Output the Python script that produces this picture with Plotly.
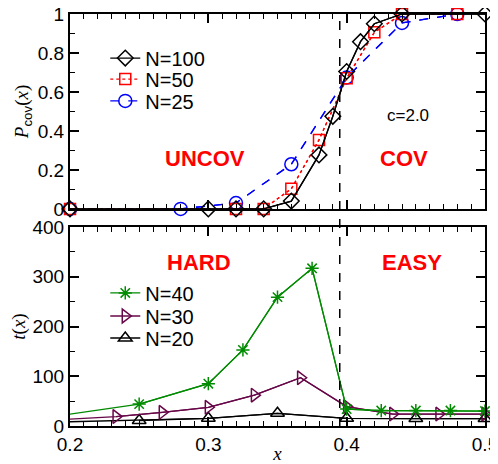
import plotly.graph_objects as go

# top panel: coverage probability
x_n100 = [0.2, 0.3, 0.32, 0.34, 0.36, 0.38, 0.39, 0.40, 0.41, 0.42, 0.44, 0.5]
p_n100 = [0.0, 0.0, 0.0, 0.0, 0.04, 0.277, 0.475, 0.705, 0.858, 0.95, 1.0, 1.0]
x_n50 = [0.2, 0.32, 0.34, 0.36, 0.38, 0.40, 0.42, 0.44, 0.48]
p_n50 = [0.0, 0.0, 0.0, 0.103, 0.354, 0.67, 0.906, 1.0, 1.0]
x_n25 = [0.2, 0.28, 0.32, 0.36, 0.40, 0.44, 0.48]
p_n25 = [0.0, 0.0, 0.03, 0.229, 0.674, 0.954, 1.0]

# bottom panel: solving time (first point of each lies left of the axis)
x_n40 = [0.15, 0.25, 0.3, 0.325, 0.35, 0.375, 0.4, 0.425, 0.45, 0.475, 0.5]
t_n40 = [4, 44, 85, 153, 259, 317, 34, 31, 31, 31, 30]
x_n30 = [0.1667, 0.2333, 0.2667, 0.3, 0.3333, 0.3667, 0.4, 0.4333, 0.4667, 0.5]
t_n30 = [9, 19, 27.5, 37.6, 62, 97, 39, 24, 24, 24]
x_n20 = [0.15, 0.25, 0.3, 0.35, 0.4, 0.45, 0.5]
t_n20 = [5, 11, 15.5, 25.5, 15.5, 15, 15]

X_MIN, X_MAX = 0.2, 0.5
X_C = 0.395

GREEN = "rgb(0,139,0)"
MAROON = "rgb(103,7,72)"
SANS = "Liberation Sans, Arial, sans-serif"
SERIF = "Liberation Serif, Times New Roman, serif"

fig = go.Figure()

def add(x, y, name, color, symbol, size, dash, xa, ya, legend):
    # line part keeps the off-axis points, markers only the visible ones
    fig.add_trace(go.Scatter(x=x, y=y, mode="lines", showlegend=False,
                             line=dict(color=color, width=1.3, dash=dash),
                             xaxis=xa, yaxis=ya, hoverinfo="skip"))
    xs = [a for a in x if a >= X_MIN - 1e-9]
    ys = [b for a, b in zip(x, y) if a >= X_MIN - 1e-9]
    fig.add_trace(go.Scatter(x=xs, y=ys, mode="lines+markers", name=name,
                             line=dict(color=color, width=1.3, dash=dash),
                             marker=dict(symbol=symbol, size=size, color=color,
                                         line=dict(color=color, width=1.5)),
                             cliponaxis=False, xaxis=xa, yaxis=ya, legend=legend))

# top traces (one legend each so the rows can sit close together)
add(x_n25, p_n25, "N=25", "blue", "circle-open", 13, "dash", "x", "y", "legend3")
add(x_n50, p_n50, "N=50", "red", "square-open", 11, "dot", "x", "y", "legend2")
add(x_n100, p_n100, "N=100", "black", "diamond-open", 12, "solid", "x", "y", "legend")
# bottom traces
add(x_n20, t_n20, "N=20", "black", "triangle-up-open", 12, "solid", "x2", "y2", "legend6")
add(x_n30, t_n30, "N=30", MAROON, "triangle-right-open", 12, "solid", "x2", "y2", "legend5")
add(x_n40, t_n40, "N=40", GREEN, "asterisk-open", 11, "solid", "x2", "y2", "legend4")

axis_common = dict(showline=True, linecolor="black", linewidth=2, mirror="allticks",
                   ticks="inside", ticklen=9, tickwidth=1.5, tickcolor="black",
                   showgrid=False, zeroline=False, automargin=False,
                   ticklabeloverflow="allow",
                   tickfont=dict(family=SANS, size=19, color="black"))
minor_x = dict(ticks="inside", dtick=0.01, ticklen=5, tickwidth=1, tickcolor="black", showgrid=False)

def leg(y):
    return dict(x=0.085, y=y, xanchor="left", yanchor="middle", bgcolor="rgba(0,0,0,0)",
                font=dict(family=SANS, size=20, color="black"), itemwidth=30)

# page body has an 8px margin, so the figure is 8px smaller than the window
fig.update_layout(
    width=490, height=456,
    margin=dict(l=62, r=13, t=6, b=38),
    plot_bgcolor="white", paper_bgcolor="white",
    xaxis=dict(axis_common, range=[X_MIN, X_MAX], dtick=0.1, anchor="y",
               showticklabels=False, minor=minor_x),
    yaxis=dict(axis_common, range=[0, 1], dtick=0.2, domain=[0.527, 1.0], anchor="x",
               minor=dict(ticks="inside", dtick=0.1, ticklen=5, tickwidth=1, tickcolor="black"),
               title=dict(text="<i>P</i><sub><span style='font-family:Liberation Sans'>cov</span></sub>(<i>x</i>)",
                          font=dict(family=SERIF, size=19, color="black"), standoff=4)),
    xaxis2=dict(axis_common, range=[X_MIN, X_MAX], dtick=0.1, anchor="y2", minor=minor_x,
                title=dict(text="<i>x</i>", font=dict(family=SERIF, size=19, color="black"),
                           standoff=0)),
    yaxis2=dict(axis_common, range=[0, 400], dtick=100, domain=[0.0, 0.483], anchor="x2",
                minor=dict(ticks="inside", dtick=50, ticklen=5, tickwidth=1, tickcolor="black"),
                title=dict(text="<i>t</i>(<i>x</i>)",
                           font=dict(family=SERIF, size=19, color="black"), standoff=4)),
    legend=leg(0.893),
    legend2=leg(0.842),
    legend3=leg(0.789),
    legend4=leg(0.323),
    legend5=leg(0.267),
    legend6=leg(0.2136),
)

# critical point
fig.add_shape(type="line", xref="x2", yref="paper", x0=X_C, x1=X_C, y0=0, y1=1,
              line=dict(color="black", width=1.5, dash="dash"))

labels = [
    ("UNCOV", 0.2976, 0.256, "x", "y"),
    ("COV", 0.4415, 0.26, "x", "y"),
    ("HARD", 0.2933, 328, "x2", "y2"),
    ("EASY", 0.447, 328, "x2", "y2"),
]
for txt, lx, ly, xr, yr in labels:
    fig.add_annotation(x=lx, y=ly, xref=xr, yref=yr, text="<b>%s</b>" % txt, showarrow=False,
                       font=dict(family=SANS, size=22, color="red"))
fig.add_annotation(x=0.4444, y=0.48, xref="x", yref="y", text="c=2.0", showarrow=False,
                   font=dict(family=SANS, size=17, color="black"))

fig.write_html("out.html")
